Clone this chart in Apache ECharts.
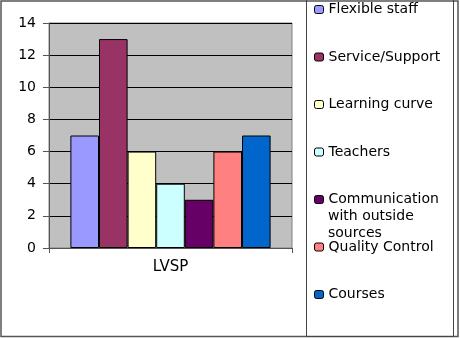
<!DOCTYPE html>
<html>
<head>
<meta charset="utf-8">
<script src="https://cdn.jsdelivr.net/npm/echarts@6/dist/echarts.min.js"></script>
<style>
html,body{margin:0;padding:0;background:#fff;}
#chart{width:460px;height:338px;}
</style>
</head>
<body>
<div id="chart"></div>
<script>
const categories = ['LVSP'];
const seriesNames = ['Flexible staff', 'Service/Support', 'Learning curve', 'Teachers', 'Communication with outside sources', 'Quality Control', 'Courses'];
const legendLabels = ['Flexible staff', 'Service/Support', 'Learning curve', 'Teachers', 'Communication', 'Quality Control', 'Courses'];
const legendContinuation = 'with outside\nsources';
const seriesValues = [7, 13, 6, 4, 3, 6, 7];
const seriesColors = ['#9999FF', '#993366', '#FFFFCC', '#CCFFFF', '#660066', '#FF8080', '#0066CC'];
const yMin = 0, yMax = 14, yInterval = 2;

const legendCenters = [9.5, 57, 104.5, 152, 199.5, 247, 294.5];
const FONT = 'DejaVu Sans';
const LH = 17;
const LFS = 14;

const chart = echarts.init(document.getElementById('chart'), null, {renderer: 'canvas'});

const series = seriesNames.map((n, i) => ({
  name: n,
  type: 'bar',
  data: [seriesValues[i]],
  barWidth: 28.6,
  barGap: '0%',
  itemStyle: {color: seriesColors[i], borderColor: '#000', borderWidth: 1},
  emphasis: {disabled: true},
  animation: false
}));

const legends = seriesNames.map((n, i) => ({
  data: [n],
  orient: 'vertical',
  left: 314,
  top: legendCenters[i] - LH / 2,
  padding: 0,
  itemWidth: 9,
  itemHeight: 8,
  itemGap: 0,
  selectedMode: false,
  formatter: () => legendLabels[i],
  itemStyle: {borderColor: '#000', borderWidth: 1},
  textStyle: {fontFamily: FONT, fontSize: LFS, color: '#000', lineHeight: LH}
}));

chart.setOption({
  animation: false,
  backgroundColor: '#fff',
  grid: {
    left: 49, top: 23, width: 243, height: 225,
    show: true, backgroundColor: '#c0c0c0', borderColor: '#808080', borderWidth: 1
  },
  xAxis: {
    type: 'category',
    data: categories,
    axisLine: {show: true, lineStyle: {color: '#555', width: 1}},
    axisTick: {show: true, length: 5, alignWithLabel: false, lineStyle: {color: '#555'}},
    axisLabel: {fontFamily: FONT, fontSize: 15, color: '#000', margin: 12},
    splitLine: {show: false}
  },
  yAxis: {
    type: 'value',
    min: yMin, max: yMax, interval: yInterval,
    axisLine: {show: true, lineStyle: {color: '#555', width: 1}},
    axisTick: {show: true, inside: false, length: 6, lineStyle: {color: '#555'}},
    axisLabel: {fontFamily: FONT, fontSize: 14, color: '#000', margin: 13},
    splitLine: {show: true, lineStyle: {color: '#000', width: 1}}
  },
  legend: legends,
  series: series,
  graphic: [
    {type: 'rect', shape: {x: 1, y: 1, width: 457, height: 335.5}, style: {fill: 'none', stroke: '#555', lineWidth: 1.5}, silent: true, z: 100},
    {type: 'rect', shape: {x: 306.5, y: -3, width: 147, height: 339.5}, style: {fill: 'none', stroke: '#444', lineWidth: 1}, silent: true, z: 100},
    {type: 'text', left: 328, top: legendCenters[4] + LH / 2, silent: true,
     style: {text: legendContinuation, fontFamily: FONT, fontSize: LFS, fill: '#000', lineHeight: LH}}
  ]
});
</script>
</body>
</html>
